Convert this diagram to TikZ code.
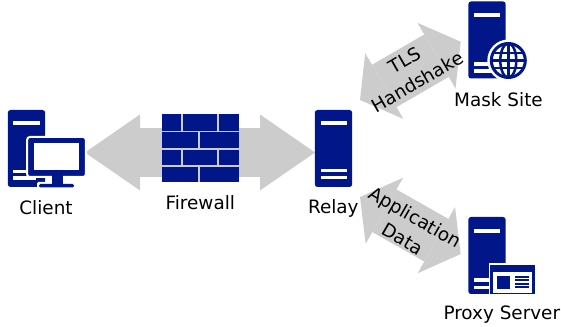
\documentclass[tikz,border=0pt]{standalone}
\usepackage{fontspec}
\setmainfont{DejaVu Sans}
\usetikzlibrary{arrows.meta}
\definecolor{iconblue}{HTML}{001689}
\definecolor{arrowgray}{HTML}{CCCCCC}
\tikzset{
  linkarrow/.style={draw=arrowgray, line width=36.75pt,
    {Triangle[length=#1, width=57pt, line width=0pt]}-{Triangle[length=#1, width=57pt, line width=0pt]}},
  tower/.style={fill=iconblue, rounded corners=2pt, inner sep=0pt, minimum width=28pt, minimum height=57.75pt},
  brick/.style={fill=iconblue},
  stripe/.style={fill=white},
  globeline/.style={draw=iconblue, line width=1.9pt},
  caption/.style={inner sep=0pt, align=center, font=\fontsize{13.8pt}{18.75pt}\selectfont}
}
\begin{document}
\begin{tikzpicture}[x=0.75pt,y=-0.75pt]
  \useasboundingbox (0,0) rectangle (561,327);

  % end points of the links
  \coordinate (clientend) at (85,152.5);
  \coordinate (relayend) at (315,152.5);
  \coordinate (tlsend) at (360,100);
  \coordinate (maskend) at (460.7,41.7);
  \coordinate (append) at (360,197);
  \coordinate (proxyend) at (460.7,254);

  \draw[linkarrow=41.25pt] (clientend) -- (relayend);
  \draw[linkarrow=21pt] (tlsend) -- (maskend);
  \draw[linkarrow=21pt] (append) -- (proxyend);

  % client
  \node[tower] (client) at (26.5,148.5) {};
  \fill[stripe] (13,121) rectangle (40,125);
  \fill[stripe] (13,170) rectangle (30,173);
  \fill[stripe] (13,176) rectangle (36,180);
  \node[fill=iconblue, draw=white, line width=1.5pt, rounded corners=2pt, inner sep=0pt, minimum width=44pt, minimum height=30pt] (monitor) at (56.5,157) {};
  \fill[stripe] (34,143) rectangle (79,170);
  \fill[white, rounded corners=1pt] (37,182) rectangle (77,189);
  \fill[iconblue] (52,175) rectangle (63,185);
  \fill[iconblue, rounded corners=1pt] (39,184) rectangle (74,187.5);

  % firewall
  \fill[arrowgray] (162,114.3) rectangle (239,182.3);
  \foreach \xa/\xb in {162/181,183.3/217,219.3/239} {
    \fill[brick] (\xa,114.3) rectangle (\xb,130.7);
    \fill[brick] (\xa,149.7) rectangle (\xb,165);
  }
  \foreach \xa/\xb in {162/198,200.3/239} {
    \fill[brick] (\xa,132) rectangle (\xb,148.3);
    \fill[brick] (\xa,167) rectangle (\xb,182.3);
  }

  % relay
  \node[tower] (relay) at (333.5,148.5) {};
  \fill[stripe] (321,121) rectangle (347,125);
  \fill[stripe] (321,169) rectangle (347,172);
  \fill[stripe] (321,176) rectangle (347,179);

  % mask site
  \node[tower] (mask) at (487,40) {};
  \fill[stripe] (474,13) rectangle (500,17);
  \fill[stripe] (474,62) rectangle (500,66);
  \fill[stripe] (474,69) rectangle (500,73);
  \node[circle, fill=white, inner sep=0pt, minimum size=31.5pt] (globe) at (508.3,60.5) {};
  \draw[globeline, line width=2.25pt] (508.3,60.5) circle (17);
  \draw[globeline] (508.3,60.5) ellipse (8 and 17);
  \draw[globeline] (508.3,43.5) -- (508.3,77.5);
  \draw[globeline] (491.3,60.5) -- (525.3,60.5);
  \draw[globeline] (493,53) -- (523.6,53);
  \draw[globeline] (493,68) -- (523.6,68);

  % proxy server
  \node[tower] (proxy) at (487,255.5) {};
  \fill[stripe] (474,229) rectangle (500,233);
  \fill[stripe] (474,278) rectangle (500,282);
  \fill[stripe] (474,286) rectangle (500,289);
  \node[fill=iconblue, draw=white, line width=1pt, inner sep=0pt, minimum width=35pt, minimum height=23pt] (window) at (512.5,279.5) {};
  \fill[stripe] (493,272) rectangle (532,293);
  \fill[iconblue] (497,276) rectangle (510,289);
  \foreach \y in {276,279.5,283,286.5} {
    \fill[iconblue] (515,\y) rectangle (529,\y+2);
  }

  % labels
  \node[caption] (clientlabel) at (46,207.8) {Client};
  \node[caption] (firewalllabel) at (200.3,202.2) {Firewall};
  \node[caption] (relaylabel) at (333.3,208.3) {Relay};
  \node[caption] (masklabel) at (498.5,99.2) {Mask Site};
  \node[caption] (proxylabel) at (501.8,315) {Proxy Server};
  \node[caption, rotate=30] (tlslabel) at (411,71) {TLS\\Handshake};
  \node[caption, rotate=-30] (applabel) at (409,228) {Application\\Data};
\end{tikzpicture}
\end{document}
